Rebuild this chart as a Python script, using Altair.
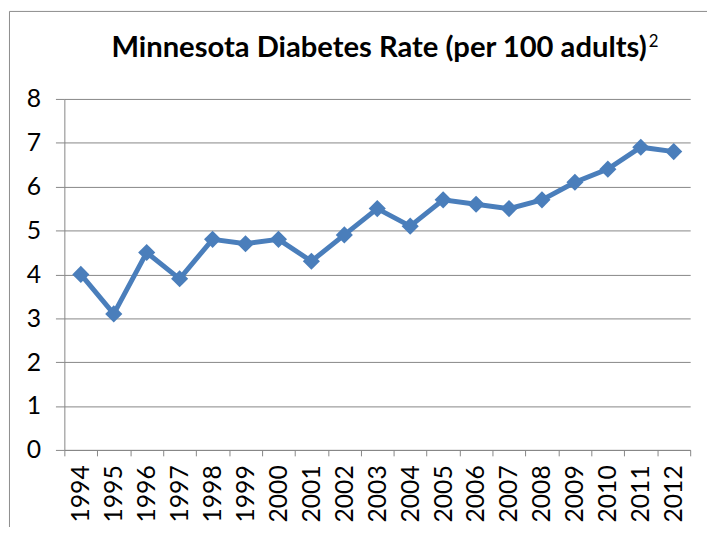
import altair as alt
import pandas as pd

YEARS = ["1994", "1995", "1996", "1997", "1998", "1999", "2000", "2001", "2002", "2003",
         "2004", "2005", "2006", "2007", "2008", "2009", "2010", "2011", "2012"]
RATES = [4.0, 3.1, 4.5, 3.9, 4.8, 4.7, 4.8, 4.3, 4.9, 5.5,
         5.1, 5.7, 5.6, 5.5, 5.7, 6.1, 6.4, 6.9, 6.8]
Y_TICKS = [0, 1, 2, 3, 4, 5, 6, 7, 8]
TITLE = "Minnesota Diabetes Rate (per 100 adults)"
SUPERSCRIPT = "2"

BLUE = "#4A7EBB"
GRAY = "#868686"
FONT = "Lato"
W, H = 633, 355

df = pd.DataFrame({"year": YEARS, "rate": RATES})

x_enc = alt.X(
    "year:O", sort=YEARS, bandPosition=0.5,
    scale=alt.Scale(type="band", paddingInner=0, paddingOuter=0),
    axis=alt.Axis(title=None, tickBand="extent", labelAngle=-90, labelFont=FONT,
                  labelFontSize=25, labelColor="black", tickColor=GRAY, tickSize=6,
                  domainColor=GRAY, grid=False, labelPadding=9),
)
y_enc = alt.Y(
    "rate:Q",
    scale=alt.Scale(domain=[0, 8], nice=False),
    axis=alt.Axis(values=Y_TICKS, title=None, grid=True, gridColor=GRAY, gridWidth=1,
                  tickColor=GRAY, tickSize=9, domainColor=GRAY, labelPadding=15,
                  labelFont=FONT, labelFontSize=25, labelColor="black"),
)

base = alt.Chart(df)
line = base.mark_line(color=BLUE, strokeWidth=5).encode(x=x_enc, y=y_enc)
points = base.mark_point(shape="diamond", filled=True, size=300, color=BLUE, opacity=1).encode(x=x_enc, y=y_enc)

border = alt.Chart(pd.DataFrame({"b": [0]})).mark_rect(
    fillOpacity=0, stroke="#8c8c8c", strokeWidth=1
).encode(x=alt.value(-55.5), x2=alt.value(W + 40), y=alt.value(-88.5), y2=alt.value(H + 100))

title = alt.Chart(pd.DataFrame({"t": [TITLE]})).mark_text(
    align="right", baseline="alphabetic", font=FONT, fontSize=29.5, fontWeight="bold", color="black"
).encode(x=alt.value(589), y=alt.value(-42), text="t:N")

sup = alt.Chart(pd.DataFrame({"t": [SUPERSCRIPT]})).mark_text(
    align="left", baseline="alphabetic", font=FONT, fontSize=17, color="black"
).encode(x=alt.value(591), y=alt.value(-53), text="t:N")

chart = alt.layer(border, line, points, title, sup).properties(
    width=W, height=H,
    padding={"left": 57, "top": 89, "right": 17, "bottom": 75},
    autosize=alt.AutoSizeParams(type="none"),
).configure_view(strokeWidth=0)

chart.save("out.html", embed_options={"renderer": "svg", "actions": False})
